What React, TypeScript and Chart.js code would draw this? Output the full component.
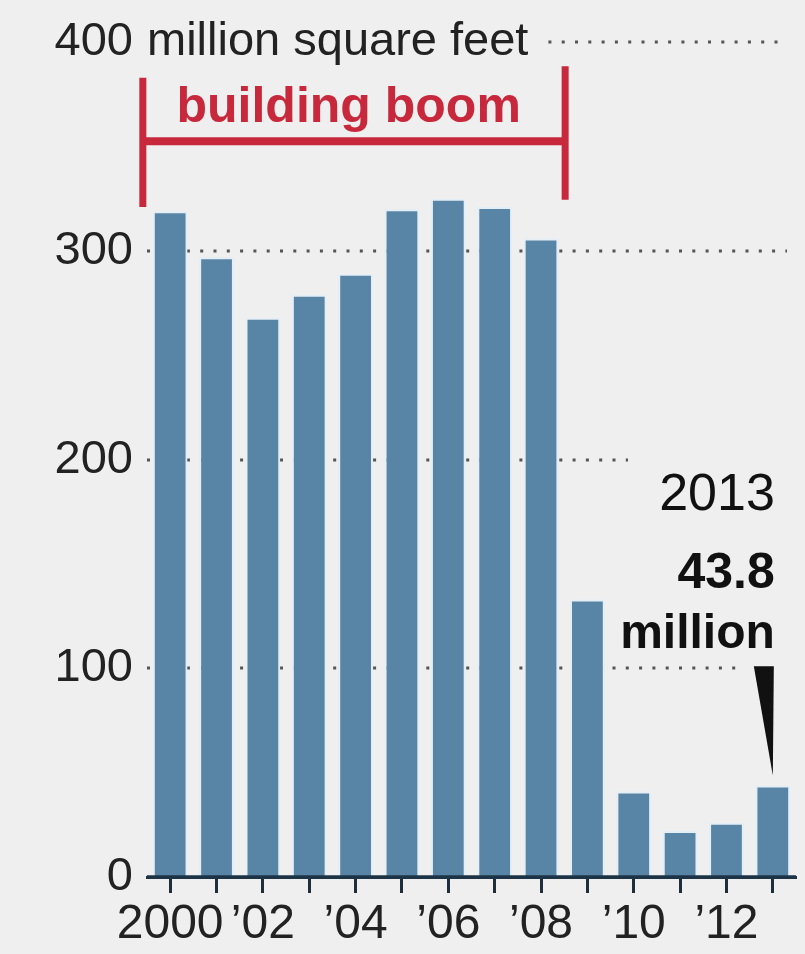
import React, { useEffect, useRef } from "react";
import { Chart, registerables } from "chart.js";

Chart.register(...registerables);

// ---- Data ----
const years = ["2000", "2001", "2002", "2003", "2004", "2005", "2006", "2007", "2008", "2009", "2010", "2011", "2012", "2013"];
const tickLabels = ["2000", "", "\u201902", "", "\u201904", "", "\u201906", "", "\u201908", "", "\u201910", "", "\u201912", ""];
const values = [319, 297, 268, 279, 289, 320, 325, 321, 306, 133, 41, 22, 26, 43.8];
const yTickValues = [0, 100, 200, 300, 400];
const unitLabel = "million square feet";
const boomLabel = "building boom";
const boomStartIndex = -0.59;
const boomEndIndex = 8.52;
const calloutYear = "2013";
const calloutValue = "43.8";
const calloutUnit = "million";
const calloutIndex = 13;

// ---- Style ----
const BG = "#efefef";
const BAR = "#5885a6";
const RED = "#c8283c";
const TEXT = "#222222";
const AXIS = "#1c3446";
const FONT = "'Liberation Sans', Arial, sans-serif";

// where each dotted gridline stops (pixel x) so annotations stay clear
const gridEnds: Record<number, number> = { 100: 737, 200: 628, 300: 787, 400: 783 };

const dotGridPlugin = {
  id: "dotGrid",
  beforeDatasetsDraw(chart: any) {
    const { ctx, chartArea, scales } = chart;
    const y = scales.y;
    ctx.save();
    ctx.strokeStyle = "#555555";
    ctx.lineWidth = 3;
    ctx.setLineDash([3, 10.3]);
    ctx.font = `47px ${FONT}`;
    const unitW = ctx.measureText(unitLabel).width;
    for (const v of yTickValues) {
      if (v === 0) continue;
      const py = Math.round(y.getPixelForValue(v));
      let x0 = chartArea.left;
      if (v === 400) x0 = chartArea.left + unitW + 20;
      const x1 = gridEnds[v] ?? chartArea.right;
      ctx.beginPath();
      ctx.moveTo(x0, py);
      ctx.lineTo(x1, py);
      ctx.stroke();
    }
    ctx.restore();
  },
};

const annotationPlugin = {
  id: "annotations",
  afterDatasetsDraw(chart: any) {
    const { ctx, chartArea, scales } = chart;
    const x = scales.x;
    const y = scales.y;
    ctx.save();

    // axis baseline on top of bars
    ctx.strokeStyle = AXIS;
    ctx.lineWidth = 3.5;
    ctx.beginPath();
    const y0 = y.getPixelForValue(0);
    ctx.moveTo(chartArea.left, y0);
    ctx.lineTo(chartArea.right, y0);
    ctx.stroke();

    // unit label next to top tick
    ctx.font = `47px ${FONT}`;
    ctx.fillStyle = TEXT;
    ctx.textAlign = "left";
    ctx.textBaseline = "middle";
    ctx.fillText(unitLabel, chartArea.left, y.getPixelForValue(400));

    // building boom bracket
    const bx0 = x.getPixelForValue(boomStartIndex);
    const bx1 = x.getPixelForValue(boomEndIndex);
    const by = y.getPixelForValue(352.5);
    ctx.strokeStyle = RED;
    ctx.lineCap = "butt";
    ctx.lineWidth = 8;
    ctx.beginPath();
    ctx.moveTo(bx0, by);
    ctx.lineTo(bx1, by);
    ctx.stroke();
    ctx.lineWidth = 7;
    ctx.beginPath();
    ctx.moveTo(bx0, y.getPixelForValue(383));
    ctx.lineTo(bx0, y.getPixelForValue(321));
    ctx.moveTo(bx1, y.getPixelForValue(388.5));
    ctx.lineTo(bx1, y.getPixelForValue(324.5));
    ctx.stroke();

    ctx.fillStyle = RED;
    ctx.font = `bold 50px ${FONT}`;
    ctx.textAlign = "center";
    ctx.textBaseline = "alphabetic";
    ctx.fillText(boomLabel, x.getPixelForValue(3.85), y.getPixelForValue(362));

    // 2013 callout
    const cx = x.getPixelForValue(calloutIndex) + 2;
    ctx.fillStyle = "#111";
    ctx.textAlign = "right";
    ctx.font = `52px ${FONT}`;
    ctx.fillText(calloutYear, cx, y.getPixelForValue(175.7));
    ctx.font = `bold 50px ${FONT}`;
    ctx.fillText(calloutValue, cx, y.getPixelForValue(138.6));
    ctx.font = `bold 48px ${FONT}`;
    ctx.fillText(calloutUnit, cx, y.getPixelForValue(109.5));

    // wedge arrow
    const tipX = x.getPixelForValue(calloutIndex);
    const tipY = y.getPixelForValue(values[calloutIndex]) - 10;
    const topY = y.getPixelForValue(101);
    ctx.beginPath();
    ctx.moveTo(tipX - 19, topY);
    ctx.lineTo(tipX + 1, topY);
    ctx.lineTo(tipX, tipY);
    ctx.closePath();
    ctx.fill();

    ctx.restore();
  },
};

export default function App() {
  const canvasRef = useRef<HTMLCanvasElement | null>(null);

  useEffect(() => {
    if (!canvasRef.current) return;
    const chart = new Chart(canvasRef.current, {
      type: "bar",
      data: {
        labels: years,
        datasets: [
          {
            data: values,
            backgroundColor: BAR,
            borderColor: "#e3eef6",
            borderWidth: 2,
            borderSkipped: "bottom",
            barPercentage: 0.75,
            categoryPercentage: 1,
          },
        ],
      },
      options: {
        responsive: false,
        animation: false,
        devicePixelRatio: 1,
        layout: { padding: { top: 37, right: 9, bottom: 0, left: 0 } },
        plugins: {
          legend: { display: false },
          tooltip: { enabled: false },
          title: { display: false },
        },
        scales: {
          x: {
            offset: true,
            grid: {
              display: true,
              offset: false,
              drawOnChartArea: false,
              drawTicks: true,
              tickLength: 16,
              tickColor: "#1e2e3a",
              tickWidth: 3,
            },
            border: { display: true, color: AXIS, width: 3 },
            ticks: {
              autoSkip: false,
              maxRotation: 0,
              minRotation: 0,
              padding: 3,
              color: TEXT,
              font: { family: FONT, size: 48, lineHeight: 1.2 },
              callback: (_v: any, i: number) => tickLabels[i],
            },
            afterFit: (s: any) => {
              s.height = 77;
            },
          },
          y: {
            min: 0,
            max: 400,
            grid: { display: false, drawTicks: false },
            border: { display: false },
            ticks: {
              stepSize: 100,
              padding: 14,
              color: TEXT,
              font: { family: FONT, size: 47, lineHeight: 1.2 },
              callback: (v: any) => String(v),
            },
            afterFit: (s: any) => {
              s.width = 147;
            },
          },
        },
      },
      plugins: [dotGridPlugin, annotationPlugin],
    });
    return () => chart.destroy();
  }, []);

  return (
    <div style={{ position: "absolute", left: 0, top: 0, width: 805, height: 954, background: BG }}>
      <canvas ref={canvasRef} width={805} height={954} style={{ display: "block" }} />
    </div>
  );
}
